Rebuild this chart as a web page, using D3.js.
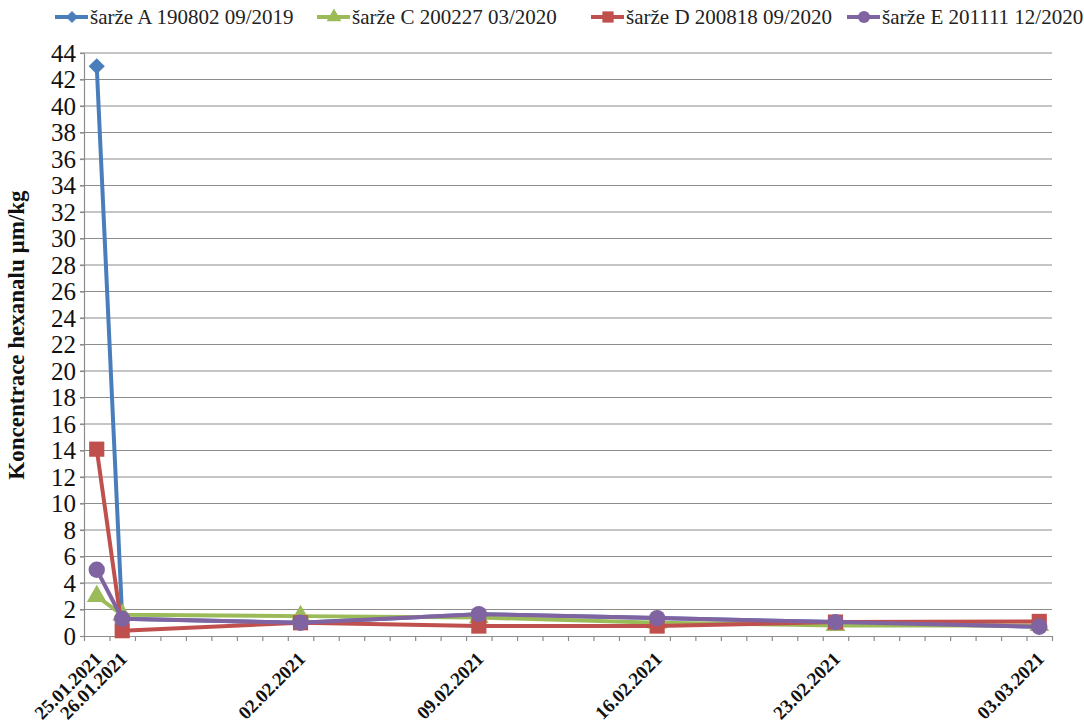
<!DOCTYPE html>
<html>
<head>
<meta charset="utf-8">
<script src="https://cdn.jsdelivr.net/npm/d3@7"></script>
<style>
  body { margin: 0; background: #fff; }
</style>
</head>
<body>
<svg id="chart" width="1084" height="722"></svg>
<script>
// data
const dates = ["2021-01-25", "2021-01-26", "2021-02-02", "2021-02-09", "2021-02-16", "2021-02-23", "2021-03-03"];
const dateLabels = ["25.01.2021", "26.01.2021", "02.02.2021", "09.02.2021", "16.02.2021", "23.02.2021", "03.03.2021"];
const seriesNames = ["šarže A 190802 09/2019", "šarže C 200227 03/2020", "šarže D 200818 09/2020", "šarže E 201111 12/2020"];
const valuesA = [43, 1.3, 1.0, 1.65, 1.35, 1.05, 0.7];
const valuesC = [3.0, 1.6, 1.5, 1.4, 1.0, 0.8, 0.8];
const valuesD = [14.1, 0.4, 1.0, 0.75, 0.75, 1.05, 1.1];
const valuesE = [5.0, 1.3, 1.0, 1.65, 1.35, 1.05, 0.7];
const yTicks = d3.range(0, 45, 2);

const serif = '"Liberation Serif", "Times New Roman", serif';
const colors = ["#4a7ebb", "#9bbb59", "#c0504d", "#8064a2"];
// diamond = square turned by 45deg
const symbols = [d3.symbolSquare, d3.symbolTriangle, d3.symbolSquare, d3.symbolCircle];
const symRotate = [45, 0, 0, 0];
const symSize = [130, 170, 230, 210];

const margin = {top: 53, right: 32, bottom: 86, left: 84},
    width = 1084 - margin.left - margin.right,
    height = 722 - margin.top - margin.bottom;

const svg = d3.select("#chart")
  .append("g")
  .attr("transform", `translate(${margin.left}, ${margin.top})`);

const parse = d3.utcParse("%Y-%m-%d");
const dayDates = dates.map(parse);
const x = d3.scaleUtc()
    .domain([d3.utcHour.offset(dayDates[0], -12), d3.utcHour.offset(dayDates[dayDates.length - 1], 12)])
    .range([0, width]);
const y = d3.scaleLinear()
    .domain([0, 44])
    .range([height, 0]);

// horizontal grid
svg.append("g")
  .selectAll("line")
  .data(yTicks.slice(1))
  .enter().append("line")
  .attr("x1", -4).attr("x2", width)
  .attr("y1", d => y(d)).attr("y2", d => y(d))
  .attr("stroke", "#8c8c8c")
  .attr("stroke-width", 1.2);

// y axis
const yAxis = svg.append("g")
  .call(d3.axisLeft(y).tickValues(yTicks).tickSize(4).tickSizeOuter(0));
yAxis.selectAll("text")
  .style("font-family", serif)
  .style("font-size", "25px")
  .attr("fill", "#111")
  .attr("x", -8);
yAxis.selectAll("line, path").attr("stroke", "#8c8c8c").attr("stroke-width", 1.2);

// x axis, one tick per day boundary
const dayTicks = d3.utcDay.range(dayDates[0], d3.utcDay.offset(dayDates[dayDates.length - 1], 2))
  .map(d => d3.utcHour.offset(d, -12));
const xAxis = svg.append("g")
  .attr("transform", `translate(0, ${height})`)
  .call(d3.axisBottom(x).tickValues(dayTicks).tickSize(5).tickSizeOuter(0).tickFormat(""));
xAxis.selectAll("line, path").attr("stroke", "#8c8c8c").attr("stroke-width", 1.2);

svg.append("g")
  .selectAll("text")
  .data(dayDates)
  .enter().append("text")
  .attr("transform", (d) => `translate(${x(d) + 6}, ${height + 24}) rotate(-45)`)
  .attr("text-anchor", "end")
  .style("font-family", serif)
  .style("font-size", "19px")
  .style("font-weight", "bold")
  .attr("fill", "#111")
  .text((d, i) => dateLabels[i]);

// lines and markers
const allValues = [valuesA, valuesC, valuesD, valuesE];
const line = d3.line()
  .x((d, i) => x(dayDates[i]))
  .y(d => y(d));

allValues.forEach(function (vals, s) {
  svg.append("path")
    .datum(vals)
    .attr("d", line)
    .attr("fill", "none")
    .attr("stroke", colors[s])
    .attr("stroke-width", 4)
    .attr("stroke-linejoin", "round");
  svg.append("g")
    .selectAll("path")
    .data(vals)
    .enter().append("path")
    .attr("transform", (d, i) => `translate(${x(dayDates[i])}, ${y(d)}) rotate(${symRotate[s]})`)
    .attr("d", d3.symbol().type(symbols[s]).size(symSize[s]))
    .attr("fill", colors[s]);
});

// y title
svg.append("text")
  .text("Koncentrace hexanalu µm/kg")
  .attr("transform", `translate(${24 - margin.left}, ${335 - margin.top}) rotate(-90)`)
  .attr("text-anchor", "middle")
  .style("font-family", serif)
  .style("font-size", "23px")
  .style("font-weight", "bold")
  .attr("fill", "#111");

// legend
const legendX = [55, 317, 591, 847];
const legend = d3.select("#chart").append("g");
seriesNames.forEach(function (name, s) {
  const g = legend.append("g").attr("transform", `translate(${legendX[s]}, 17)`);
  g.append("line")
    .attr("x1", 0).attr("x2", 33)
    .attr("stroke", colors[s])
    .attr("stroke-width", 4);
  g.append("path")
    .attr("transform", `translate(17, 0) rotate(${symRotate[s]})`)
    .attr("d", d3.symbol().type(symbols[s]).size(symSize[s] * 0.55))
    .attr("fill", colors[s]);
  g.append("text")
    .attr("x", 35)
    .attr("y", 7)
    .style("font-family", serif)
    .style("font-size", "21px")
    .attr("fill", "#222")
    .text(name);
});
</script>
</body>
</html>
